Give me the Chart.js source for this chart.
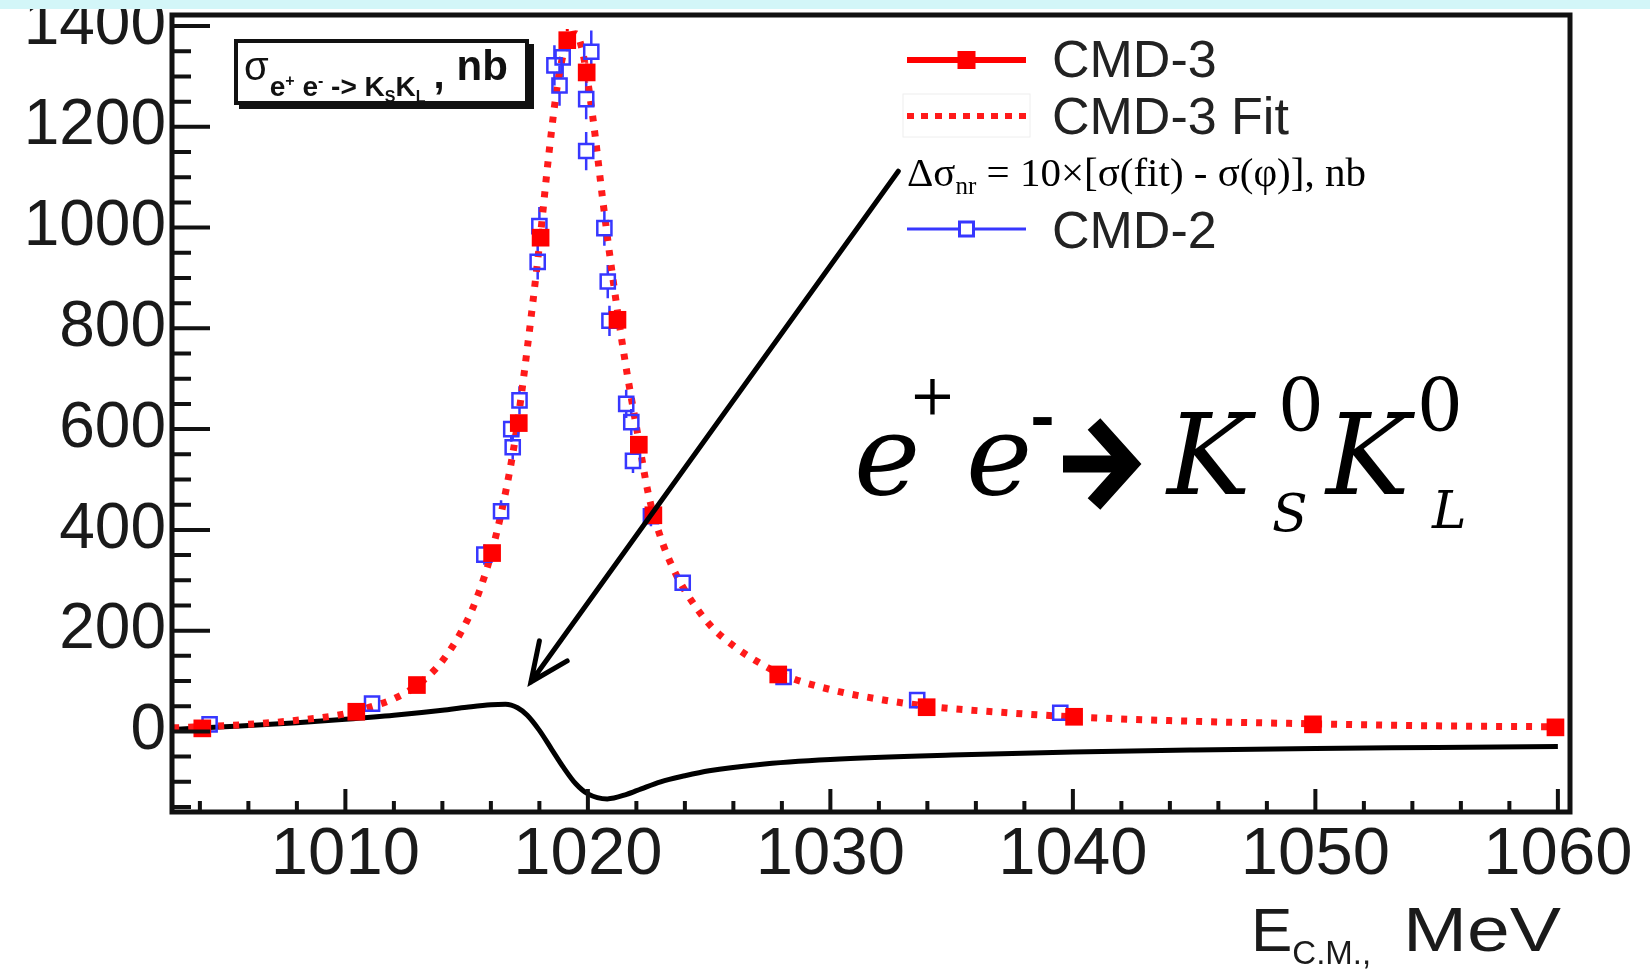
<!DOCTYPE html>
<html>
<head>
<meta charset="utf-8">
<title>e+e- -> KsKL cross section</title>
<script src="https://cdn.jsdelivr.net/npm/chart.js@4"></script>
<style>
  html, body { margin: 0; padding: 0; background: #fff; }
  #wrap { width: 1650px; height: 973px; }
</style>
</head>
<body>
<div id="wrap"><canvas id="chart" width="1650" height="973"></canvas></div>
<script>
// tick labels
const xTicks = [1010, 1020, 1030, 1040, 1050, 1060];
const yTicks = [0, 200, 400, 600, 800, 1000, 1200, 1400];

// CMD-3 points (E, sigma, error)
const cmd3Energy = [1004.1, 1010.45, 1012.95, 1016.05, 1017.15, 1018.05, 1019.15, 1019.95, 1021.22, 1022.1, 1022.7, 1027.85, 1033.97, 1040.05, 1049.9, 1059.9];
const cmd3Sigma = [6, 39, 92, 354, 612, 980, 1372, 1308, 817, 569, 429, 113, 48, 29, 14, 8];
const cmd3Error = [3, 5, 6, 10, 14, 18, 22, 20, 14, 12, 10, 5, 3, 3, 2, 2];

// CMD-2 points
const cmd2Energy = [1004.4, 1011.1, 1015.73, 1016.42, 1016.84, 1016.9, 1017.18, 1017.93, 1018.0, 1018.62, 1018.83, 1018.96, 1019.93, 1019.93, 1020.14, 1020.68, 1020.82, 1020.89, 1021.58, 1021.79, 1021.86, 1022.6, 1023.91, 1028.07, 1033.58, 1039.48];
const cmd2Sigma = [14, 55, 351, 437, 600, 564, 657, 932, 1003, 1322, 1282, 1338, 1255, 1152, 1349, 999, 893, 815, 650, 614, 537, 427, 295, 108, 62, 37];
const cmd2Error = [8, 8, 20, 22, 25, 25, 28, 35, 38, 40, 40, 40, 40, 38, 42, 35, 33, 30, 28, 26, 24, 20, 12, 8, 6, 5];

// CMD-3 fit curve
const fitEnergy = [1002.9, 1004, 1006, 1008, 1010, 1011, 1012, 1013, 1014, 1015, 1015.5, 1016, 1016.5, 1017, 1017.5, 1018, 1018.4, 1018.8, 1019.2, 1019.5, 1019.8, 1020.2, 1020.6, 1021, 1021.5, 1022, 1022.5, 1023, 1023.5, 1024, 1025, 1026, 1027, 1028, 1030, 1032, 1034, 1037, 1040, 1045, 1050, 1055, 1060.5];
const fitSigma = [7, 9, 14, 22, 35, 48, 65, 93, 140, 218, 275, 350, 450, 580, 760, 965, 1150, 1300, 1375, 1385, 1345, 1220, 1060, 910, 745, 605, 470, 385, 325, 280, 213, 170, 138, 113, 83, 64, 50, 38, 29, 20, 15, 11, 9];

// non-resonant difference curve, 10x[sigma(fit) - sigma(phi)]
const nrEnergy = [1002.9, 1005, 1008, 1010, 1012, 1014, 1015, 1016, 1016.6, 1017.1, 1017.5, 1018, 1018.5, 1019, 1019.5, 1020, 1020.8, 1021.6, 1022.2, 1023, 1024, 1025, 1027, 1030, 1035, 1040, 1045, 1050, 1055, 1060];
const nrDelta = [4, 9, 17, 24, 32, 42, 48, 53, 54, 47, 32, 2, -35, -72, -104, -124, -134, -125, -114, -100, -88, -78, -66, -56, -47, -41, -37, -34, -32, -30];

// arrow from the annotation to the curve (E, sigma)
const arrowTail = [1032.8, 1112];
const arrowTip = [1017.65, 98];

const xRange = [1002.85, 1060.5];
const yRange = [-160, 1422];

const sans = "'Liberation Sans', Arial, Helvetica, sans-serif";
const serif = "'Liberation Serif', 'Times New Roman', serif";
const mathSerif = "'DejaVu Serif', 'Liberation Serif', serif";

function pairs(xs, ys) {
  return xs.map((x, i) => ({ x: x, y: ys[i] }));
}

function drawErrors(chart, index, errors, color, width, gap) {
  const ctx = chart.ctx;
  const meta = chart.getDatasetMeta(index);
  const ys = chart.scales.y;
  const data = chart.data.datasets[index].data;
  ctx.save();
  ctx.strokeStyle = color;
  ctx.lineWidth = width;
  meta.data.forEach((pt, i) => {
    const top = ys.getPixelForValue(data[i].y + errors[i]);
    const bot = ys.getPixelForValue(data[i].y - errors[i]);
    ctx.beginPath();
    if (top < pt.y - gap) {
      ctx.moveTo(pt.x, top);
      ctx.lineTo(pt.x, pt.y - gap);
    }
    if (bot > pt.y + gap) {
      ctx.moveTo(pt.x, pt.y + gap);
      ctx.lineTo(pt.x, bot);
    }
    ctx.stroke();
  });
  ctx.restore();
}

function text(ctx, str, x, y, font, align) {
  ctx.font = font;
  ctx.textAlign = align || "left";
  ctx.fillText(str, x, y);
  return ctx.measureText(str).width;
}

const rootStyle = {
  id: "rootStyle",
  beforeDraw(chart) {
    const ctx = chart.ctx;
    ctx.save();
    ctx.fillStyle = "#fff";
    ctx.fillRect(0, 0, chart.width, chart.height);
    ctx.restore();
  },
  beforeDatasetsDraw(chart) {
    drawErrors(chart, 1, cmd2Error, "rgb(55,55,255)", 2.5, 7);
    drawErrors(chart, 0, cmd3Error, "#ff0000", 3, 9);
  },
  afterDatasetsDraw(chart) {
    const ctx = chart.ctx;
    const a = chart.chartArea;
    const xs = chart.scales.x;
    const ys = chart.scales.y;

    // frame
    ctx.save();
    ctx.strokeStyle = "#111";
    ctx.lineWidth = 5;
    ctx.strokeRect(a.left, a.top, a.right - a.left, a.bottom - a.top);

    // inward ticks
    ctx.lineWidth = 4;
    ctx.beginPath();
    for (let v = -150; v <= 1400; v += 50) {
      const y = ys.getPixelForValue(v);
      const len = v % 200 === 0 ? 38 : 19;
      ctx.moveTo(a.left, y);
      ctx.lineTo(a.left + len, y);
    }
    for (let e = 1004; e <= 1060; e += 2) {
      const x = xs.getPixelForValue(e);
      const len = e % 10 === 0 ? 23 : 11;
      ctx.moveTo(x, a.bottom);
      ctx.lineTo(x, a.bottom - len);
    }
    ctx.stroke();

    // arrow
    const tx = xs.getPixelForValue(arrowTail[0]);
    const ty = ys.getPixelForValue(arrowTail[1]);
    const hx = xs.getPixelForValue(arrowTip[0]);
    const hy = ys.getPixelForValue(arrowTip[1]);
    const ang = Math.atan2(hy - ty, hx - tx);
    ctx.strokeStyle = "#000";
    ctx.lineWidth = 5;
    ctx.lineCap = "round";
    ctx.beginPath();
    ctx.moveTo(tx, ty);
    ctx.lineTo(hx, hy);
    ctx.moveTo(hx - 42 * Math.cos(ang - 0.42), hy - 42 * Math.sin(ang - 0.42));
    ctx.lineTo(hx, hy);
    ctx.lineTo(hx - 42 * Math.cos(ang + 0.42), hy - 42 * Math.sin(ang + 0.42));
    ctx.stroke();
    ctx.restore();
  },
  afterDraw(chart) {
    const ctx = chart.ctx;
    const ds = chart.data.datasets;
    ctx.save();
    ctx.textBaseline = "alphabetic";

    // legend
    const lx0 = 907, lx1 = 1026, tx = 1052;
    ctx.strokeStyle = ds[0].borderColor;
    ctx.lineWidth = 6;
    ctx.beginPath();
    ctx.moveTo(lx0, 60); ctx.lineTo(lx1, 60); ctx.stroke();
    ctx.fillStyle = ds[0].backgroundColor;
    ctx.fillRect((lx0 + lx1) / 2 - 9, 51, 18, 18);
    ctx.fillStyle = "#222";
    text(ctx, ds[0].label, tx, 77, "52px " + sans);

    ctx.strokeStyle = "#eeeeee";
    ctx.lineWidth = 1;
    ctx.strokeRect(lx0 - 4, 94, lx1 - lx0 + 8, 43);
    ctx.strokeStyle = ds[2].borderColor;
    ctx.lineWidth = 6;
    ctx.setLineDash([7, 7]);
    ctx.beginPath();
    ctx.moveTo(lx0, 116); ctx.lineTo(lx1, 116); ctx.stroke();
    ctx.setLineDash([]);
    text(ctx, ds[2].label, tx, 134, "52px " + sans);

    ctx.fillStyle = "#000";
    let x = 907;
    x += text(ctx, "\u0394\u03c3", x, 186, "41px " + serif);
    x += text(ctx, "nr", x, 194, "25px " + serif);
    text(ctx, " = 10\u00d7[\u03c3(fit) - \u03c3(\u03c6)], nb", x, 186, "41px " + serif);

    ctx.strokeStyle = ds[1].borderColor;
    ctx.lineWidth = 3;
    ctx.beginPath();
    ctx.moveTo(lx0, 229); ctx.lineTo(lx1, 229); ctx.stroke();
    ctx.fillStyle = "#fff";
    ctx.fillRect((lx0 + lx1) / 2 - 7, 222, 14, 14);
    ctx.strokeRect((lx0 + lx1) / 2 - 7, 222, 14, 14);
    ctx.fillStyle = "#222";
    text(ctx, ds[1].label, tx, 248, "52px " + sans);

    // title box
    ctx.fillStyle = "#111";
    ctx.fillRect(239, 104, 295, 5);
    ctx.fillRect(529, 44, 5, 65);
    ctx.strokeStyle = "#111";
    ctx.lineWidth = 4;
    ctx.fillStyle = "#fff";
    ctx.fillRect(236, 41, 291, 62);
    ctx.strokeRect(236, 41, 291, 62);
    ctx.fillStyle = "#111";
    x = 244;
    x += text(ctx, "\u03c3", x, 80, "40px " + sans);
    x += 1;
    x += text(ctx, "e", x, 96, "bold 28px " + sans);
    x += text(ctx, "+", x, 86, "bold 16px " + sans);
    x += text(ctx, " e", x, 96, "bold 28px " + sans);
    x += text(ctx, "-", x, 86, "bold 16px " + sans);
    x += text(ctx, " -> K", x, 96, "bold 28px " + sans);
    x += text(ctx, "S", x, 102, "bold 16px " + sans);
    x += text(ctx, "K", x, 96, "bold 28px " + sans);
    x += text(ctx, "L", x, 102, "bold 16px " + sans);
    x += text(ctx, ",", x + 8, 88, "bold 40px " + sans);
    text(ctx, "nb", x + 20, 80, "bold 42px " + sans);

    // reaction formula
    ctx.fillStyle = "#000";
    const it = "italic 112px " + mathSerif;
    text(ctx, "e", 854, 494, it);
    text(ctx, "+", 909, 414, "56px " + mathSerif);
    text(ctx, "e", 966, 494, it);
    text(ctx, "-", 1030, 437, "bold 60px " + mathSerif);
    text(ctx, "K", 1167, 494, it);
    text(ctx, "0", 1278, 431, "72px " + mathSerif);
    text(ctx, "S", 1272, 531, "italic 52px " + mathSerif);
    text(ctx, "K", 1326, 494, it);
    text(ctx, "0", 1417, 431, "72px " + mathSerif);
    text(ctx, "L", 1432, 528, "italic 52px " + mathSerif);
    // the heavy reaction arrow between the two sides
    ctx.strokeStyle = "#000";
    ctx.lineWidth = 17;
    ctx.lineCap = "butt";
    ctx.lineJoin = "miter";
    ctx.beginPath();
    ctx.moveTo(1063, 464);
    ctx.lineTo(1124, 464);
    ctx.stroke();
    ctx.beginPath();
    ctx.moveTo(1094, 424);
    ctx.lineTo(1130, 464);
    ctx.lineTo(1094, 504);
    ctx.stroke();

    // x axis title
    ctx.fillStyle = "#1a1a1a";
    x = 1251;
    x += text(ctx, "E", x, 951, "62px " + sans);
    x += text(ctx, "C.M.,", x, 964, "33px " + sans);
    ctx.save();
    ctx.translate(1403, 951);
    ctx.scale(1.22, 1);
    text(ctx, "MeV", 0, 0, "63px " + sans);
    ctx.restore();

    // cyan strip at the top of the slide
    ctx.fillStyle = "#d3f6f8";
    ctx.fillRect(0, 0, chart.width, 9);
    ctx.restore();
  }
};

new Chart(document.getElementById("chart"), {
  type: "scatter",
  data: {
    datasets: [
      {
        label: "CMD-3",
        data: pairs(cmd3Energy, cmd3Sigma),
        pointStyle: "rect",
        pointRadius: 12.5,
        backgroundColor: "#ff0000",
        borderColor: "#ff0000",
        borderWidth: 0,
        clip: 14,
        order: 0,
      },
      {
        label: "CMD-2",
        data: pairs(cmd2Energy, cmd2Sigma),
        pointStyle: "rect",
        pointRadius: 10,
        backgroundColor: "rgba(255,255,255,0)",
        borderColor: "rgb(55,55,255)",
        borderWidth: 2.5,
        clip: 14,
        order: 1,
      },
      {
        label: "CMD-3 Fit",
        data: pairs(fitEnergy, fitSigma),
        showLine: true,
        pointRadius: 0,
        borderColor: "#ff1a1a",
        borderWidth: 7,
        borderDash: [6, 9],
        cubicInterpolationMode: "monotone",
        order: 2,
      },
      {
        label: "\u0394\u03c3nr",
        data: pairs(nrEnergy, nrDelta),
        showLine: true,
        pointRadius: 0,
        borderColor: "#000",
        borderWidth: 5,
        cubicInterpolationMode: "monotone",
        order: 3,
      },
    ],
  },
  options: {
    responsive: false,
    devicePixelRatio: 1,
    animation: false,
    layout: { padding: { left: 0, right: 80, top: 15, bottom: 0 } },
    plugins: {
      legend: { display: false },
      tooltip: { enabled: false },
    },
    scales: {
      x: {
        type: "linear",
        min: xRange[0],
        max: xRange[1],
        grid: { display: false, drawTicks: false },
        border: { display: false },
        afterBuildTicks: (scale) => {
          scale.ticks = xTicks.map((v) => ({ value: v }));
        },
        afterFit: (scale) => {
          scale.height = 161;
          scale.paddingLeft = 0;
          scale.paddingRight = 0;
        },
        ticks: {
          autoSkip: false,
          maxRotation: 0,
          padding: 3,
          color: "#1a1a1a",
          font: { family: sans, size: 67 },
          callback: (v) => String(v),
        },
      },
      y: {
        type: "linear",
        min: yRange[0],
        max: yRange[1],
        grid: { display: false, drawTicks: false },
        border: { display: false },
        afterBuildTicks: (scale) => {
          scale.ticks = yTicks.map((v) => ({ value: v }));
        },
        afterFit: (scale) => {
          scale.width = 172;
          scale.paddingTop = 0;
          scale.paddingBottom = 0;
        },
        ticks: {
          autoSkip: false,
          padding: 6,
          color: "#1a1a1a",
          font: { family: sans, size: 64 },
          callback: (v) => String(v),
        },
      },
    },
  },
  plugins: [rootStyle],
});
</script>
</body>
</html>
